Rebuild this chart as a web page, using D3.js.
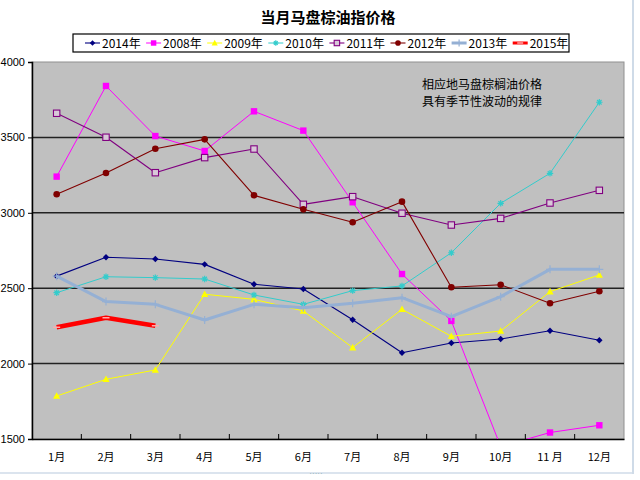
<!DOCTYPE html>
<html><head><meta charset="utf-8">
<script src="https://cdn.jsdelivr.net/npm/d3@7"></script>
<style>body{margin:0;background:#fff;}svg{display:block;}</style>
</head><body>
<script>
const months = ["1月","2月","3月","4月","5月","6月","7月","8月","9月","10月","11 月","12月"];
const yTicks = [1500,2000,2500,3000,3500,4000];
const s2014 = [2580,2705,2694,2658,2526,2495,2291,2072,2137,2163,2218,2155];
const s2008 = [3240,3841,3509,3410,3673,3545,3070,2594,2283,1450,1543,1591];
const s2009 = [1785,1896,1958,2460,2426,2349,2106,2360,2181,2216,2477,2588];
const s2010 = [2470,2576,2570,2561,2455,2393,2484,2515,2735,3063,3262,3733];
const s2011 = [3660,3501,3266,3366,3423,3056,3107,2997,2919,2963,3065,3149];
const s2012 = [3123,3264,3425,3487,3116,3023,2937,3074,2506,2523,2400,2480];
const s2013 = [2580,2411,2393,2289,2393,2371,2400,2437,2311,2444,2625,2625];
const s2015 = [2241,2304,2251];
const seriesNames = ["2014年","2008年","2009年","2010年","2011年","2012年","2013年","2015年"];

const series = [
  {name:seriesNames[0], v:s2014, color:"#000080", w:1.1, m:"diamond"},
  {name:seriesNames[1], v:s2008, color:"#ff00ff", w:1, m:"square"},
  {name:seriesNames[2], v:s2009, color:"#ffff00", w:1, m:"triangle"},
  {name:seriesNames[3], v:s2010, color:"#33cccc", w:1, m:"star"},
  {name:seriesNames[4], v:s2011, color:"#800080", w:1.1, m:"opensquare"},
  {name:seriesNames[5], v:s2012, color:"#800000", w:1.1, m:"circle"},
  {name:seriesNames[6], v:s2013, color:"#95b0d4", w:3, m:"plus"},
  {name:seriesNames[7], v:s2015, color:"#ff0000", w:4.5, m:"dash"}
];

const W=640,H=480;
const svg=d3.select("body").append("svg").attr("width",W).attr("height",H);
const L=32,R=624,T=62,B=439;
const x=d3.scaleBand().domain(months).range([L,R]);
const y=d3.scaleLinear().domain([1500,4000]).range([B,T]);

// window frame
svg.append("line").attr("x1",633).attr("x2",633).attr("y1",0).attr("y2",474).attr("stroke","#cfdbe8").attr("stroke-width",2);
svg.append("line").attr("x1",0).attr("x2",633).attr("y1",473).attr("y2",473).attr("stroke","#cfdbe8").attr("stroke-width",1.5);
svg.append("text").attr("x",316).attr("y",476).attr("font-size",8).attr("fill","#8aa").attr("text-anchor","middle").text("·····");

// title
svg.append("text").attr("x",328).attr("y",23).attr("text-anchor","middle")
  .attr("font-family","'Noto Sans CJK SC'").attr("font-weight","bold").attr("font-size",15).text("当月马盘棕油指价格");

// plot bg
svg.append("rect").attr("x",L).attr("y",T).attr("width",R-L).attr("height",B-T).attr("fill","#c0c0c0").attr("stroke","#909090").attr("stroke-width",1);

// gridlines
svg.append("g").selectAll("line").data(yTicks.filter(d=>d>1500&&d<4000)).join("line")
  .attr("x1",L).attr("x2",R).attr("y1",d=>y(d)).attr("y2",d=>y(d)).attr("stroke","#222").attr("stroke-width",1.5);

// y axis
const ya=svg.append("g").attr("transform",`translate(${L},0)`).call(d3.axisLeft(y).tickValues(yTicks).tickSize(4).tickFormat(d3.format("d")));
ya.select(".domain").attr("stroke","#000").attr("stroke-width",1.5);
ya.selectAll("text").attr("font-family","'Liberation Sans Narrow','Liberation Sans'").attr("font-size",11).attr("x",-7).attr("fill","#000");

// x axis
const xa=svg.append("g").attr("transform",`translate(0,${B})`).call(d3.axisBottom(x).tickSize(0).tickPadding(14));
xa.select(".domain").attr("stroke","#000").attr("stroke-width",1.5);
xa.selectAll("text").attr("font-family","'Noto Sans CJK SC'").attr("font-size",11).attr("fill","#000");
svg.append("g").selectAll("line").data(months.slice(1)).join("line")
  .attr("x1",d=>x(d)).attr("x2",d=>x(d)).attr("y1",B).attr("y2",B-5).attr("stroke","#000").attr("stroke-width",1);

svg.append("clipPath").attr("id","pc").append("rect").attr("x",L).attr("y",T).attr("width",R-L).attr("height",B-T);

const cx=i=>x(months[i])+x.bandwidth()/2;
const line=d3.line().x((d,i)=>cx(i)).y(d=>y(d));

function marker(g,type,color,px,py,s){
  s=s||1;
  if(type==="diamond") g.append("path").attr("d",`M${px},${py-3.2*s}L${px+3.2*s},${py}L${px},${py+3.2*s}L${px-3.2*s},${py}Z`).attr("fill",color);
  else if(type==="square") g.append("rect").attr("x",px-3.2*s).attr("y",py-3.2*s).attr("width",6.4*s).attr("height",6.4*s).attr("fill",color);
  else if(type==="triangle") g.append("path").attr("d",`M${px},${py-3.8*s}L${px+3.6*s},${py+2.8*s}L${px-3.6*s},${py+2.8*s}Z`).attr("fill",color);
  else if(type==="star"){ const r=3.2*s; g.append("path").attr("d",`M${px-r},${py}L${px+r},${py}M${px-r*0.7},${py-r*0.7}L${px+r*0.7},${py+r*0.7}M${px-r*0.7},${py+r*0.7}L${px+r*0.7},${py-r*0.7}M${px},${py-r}L${px},${py+r}`).attr("stroke",color).attr("stroke-width",1.2);}
  else if(type==="opensquare") g.append("rect").attr("x",px-3.2*s).attr("y",py-3.2*s).attr("width",6.4*s).attr("height",6.4*s).attr("fill","#d8c8d8").attr("stroke",color).attr("stroke-width",1.1);
  else if(type==="circle") g.append("circle").attr("cx",px).attr("cy",py).attr("r",3.3*s).attr("fill",color);
  else if(type==="plus") g.append("path").attr("d",`M${px-4*s},${py}L${px+4*s},${py}M${px},${py-4*s}L${px},${py+4*s}`).attr("stroke",color).attr("stroke-width",1.2);
  else if(type==="dash") g.append("path").attr("d",`M${px-3.5*s},${py}L${px+3.5*s},${py}`).attr("stroke","#ffaaaa").attr("stroke-width",1.5);
}

const pg=svg.append("g").attr("clip-path","url(#pc)");
series.forEach(s=>{
  const g=pg.append("g");
  g.append("path").datum(s.v).attr("d",line).attr("fill","none").attr("stroke",s.color).attr("stroke-width",s.w).attr("stroke-linejoin","round");
  s.v.forEach((v,i)=>marker(g,s.m,s.color,cx(i),y(v)));
});

const ann=svg.append("g").attr("font-family","'Noto Sans CJK SC'").attr("font-size",12).attr("fill","#000");
ann.append("text").attr("x",422).attr("y",89).text("相应地马盘棕榈油价格");
ann.append("text").attr("x",422).attr("y",106).text("具有季节性波动的规律");

svg.append("rect").attr("x",73).attr("y",34).attr("width",496).attr("height",18).attr("fill","#fff").attr("stroke","#000").attr("stroke-width",1.2);
const lg=svg.append("g");
series.forEach((s,i)=>{
  const lx=85+i*61.1, ly=43;
  const g=lg.append("g");
  g.append("line").attr("x1",lx).attr("x2",lx+15).attr("y1",ly).attr("y2",ly).attr("stroke",s.color).attr("stroke-width",Math.min(s.w,3));
  marker(g,s.m,s.color,lx+7.5,ly,0.85);
  g.append("text").attr("x",lx+17).attr("y",ly+4.5).attr("font-family","'Liberation Sans Narrow','Noto Sans CJK SC'").attr("font-size",12).text(s.name);
});
</script>
</body></html>
